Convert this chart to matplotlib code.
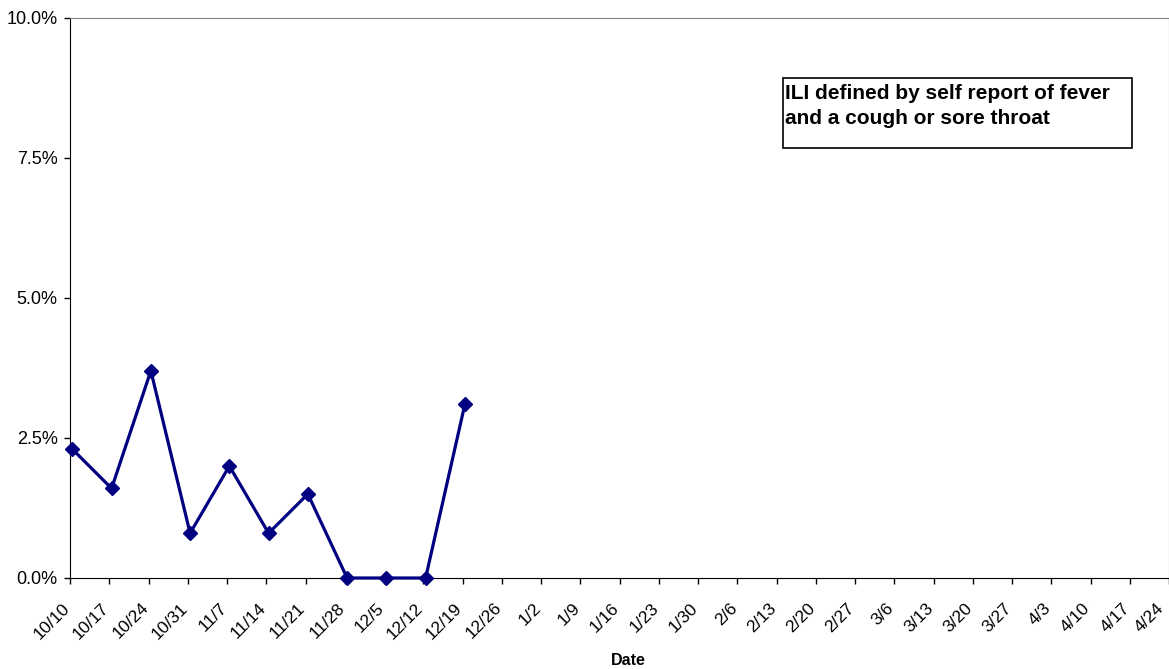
import matplotlib.pyplot as plt
from matplotlib.patches import Rectangle
from matplotlib.ticker import FuncFormatter
from matplotlib.transforms import ScaledTranslation

plt.rcParams['font.family'] = ['Liberation Sans', 'DejaVu Sans']

# week labels along the x axis
dates = ["10/10", "10/17", "10/24", "10/31", "11/7", "11/14", "11/21", "11/28",
         "12/5", "12/12", "12/19", "12/26", "1/2", "1/9", "1/16", "1/23", "1/30",
         "2/6", "2/13", "2/20", "2/27", "3/6", "3/13", "3/20", "3/27", "4/3",
         "4/10", "4/17", "4/24"]

# ILI percentage, only the first weeks reported so far
ili = [2.3, 1.6, 3.7, 0.8, 2.0, 0.8, 1.5, 0.0, 0.0, 0.0, 3.1]

yticks = [0, 2.5, 5.0, 7.5, 10.0]

fig = plt.figure(figsize=(11.69, 6.69), dpi=100)
ax = fig.add_axes([70 / 1169, 1 - 578 / 669, 1 - 70 / 1169, 560 / 669])

x = list(range(len(ili)))
ax.plot([i + 0.06 for i in x], ili, color="#000080", linewidth=2.3,
        marker="D", markersize=7.5, clip_on=False, zorder=3)

ax.set_xlim(0, len(dates) - 1)
ax.set_ylim(0, 10)
ax.set_yticks(yticks)
ax.yaxis.set_major_formatter(FuncFormatter(lambda v, p: f"{v:.1f}%"))
ax.set_xticks(range(len(dates)))
ax.set_xticklabels(dates, rotation=45, ha="right", rotation_mode="anchor")

ax.tick_params(axis="both", direction="out", length=4, width=1, labelsize=13,
               colors="black")
ax.tick_params(axis="x", pad=12, labelsize=12.5)
ax.tick_params(axis="y", pad=5)

# nudge the slanted labels a little to the left like the original,
# the last one a bit more so it stays inside the figure
labels = ax.get_xticklabels()
for i, lab in enumerate(labels):
    dx = -13 if i == len(labels) - 1 else -8
    lab.set_transform(lab.get_transform()
                      + ScaledTranslation(dx / 100, 0, fig.dpi_scale_trans))

ax.spines["left"].set_color("black")
ax.spines["bottom"].set_color("black")
ax.spines["top"].set_color("#808080")
ax.spines["right"].set_color("#808080")

ax.set_xlabel("Date", fontsize=11.5, fontweight="bold")
ax.xaxis.set_label_coords((628 - 70) / 1099, -0.134)

# note box
fig.patches.append(Rectangle((783 / 1169, 1 - 148 / 669), 349 / 1169, 70 / 669,
                             transform=fig.transFigure, facecolor="white",
                             edgecolor="black", linewidth=1.2, zorder=5))
fig.text(785 / 1169, 1 - 84 / 669,
         "ILI defined by self report of fever\nand a cough or sore throat",
         fontsize=15, fontweight="bold", va="top", ha="left",
         linespacing=1.38, zorder=6)

fig.savefig("out.png", dpi=100)
